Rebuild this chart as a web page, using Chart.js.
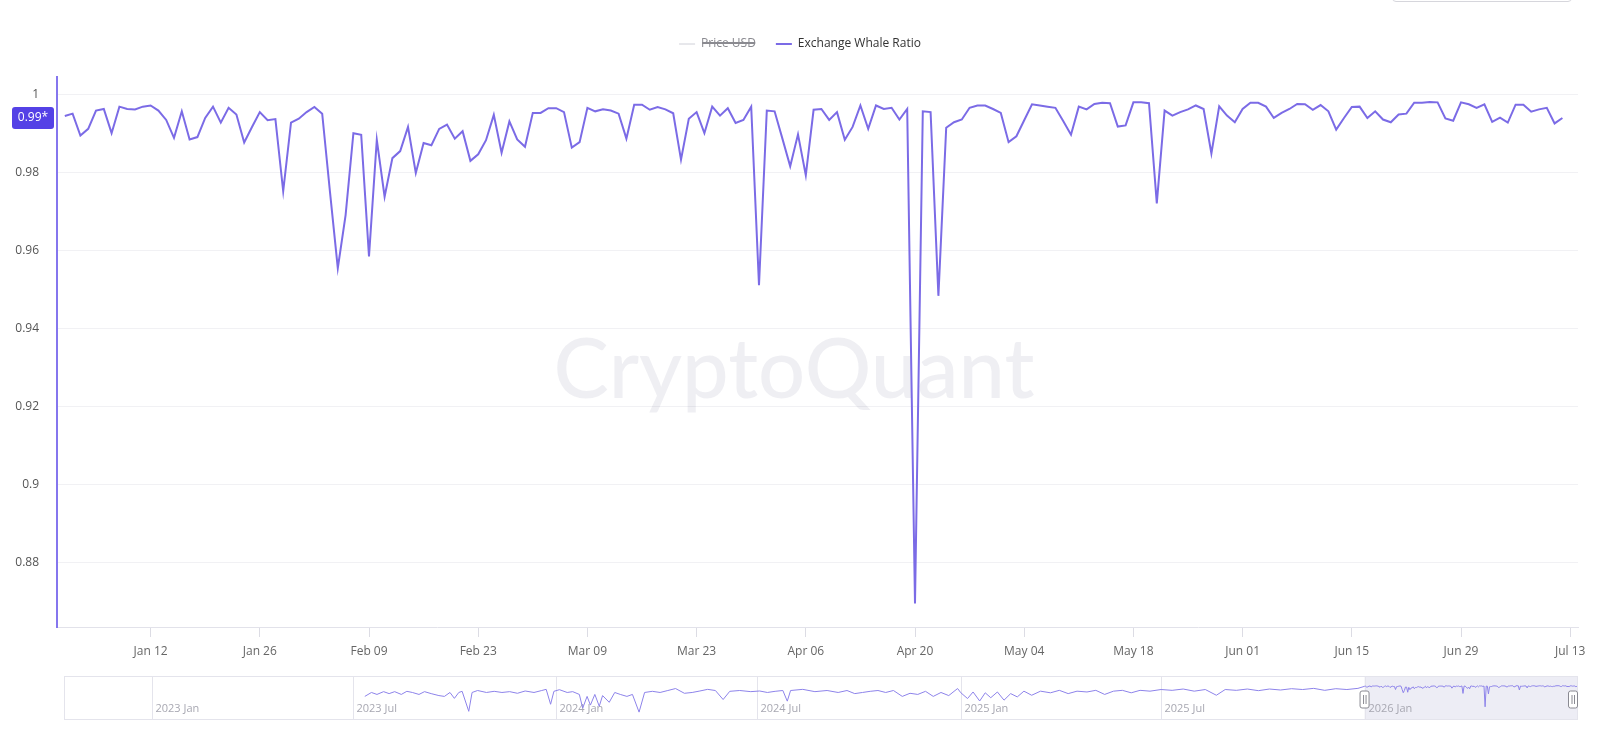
<!DOCTYPE html>
<html><head><meta charset="utf-8">
<script src="https://cdn.jsdelivr.net/npm/chart.js@4.4.1/dist/chart.umd.min.js"></script>
<style>
html,body{margin:0;padding:0;background:#fff;overflow:hidden;}
#wrap{position:relative;width:1600px;height:730px;overflow:hidden;}
#main{position:absolute;left:0;top:0;width:1600px;height:668px;}
#nav{position:absolute;left:0;top:668px;width:1600px;height:62px;}
#topbox{position:absolute;left:1392px;top:-22px;width:178px;height:22px;border:1px solid #d6d6dc;border-radius:4px;}
</style></head><body>
<div id="wrap">
<canvas id="main" width="1600" height="668"></canvas>
<canvas id="nav" width="1600" height="62"></canvas>
<div id="topbox"></div>
</div>
<script>
// ---------- DATA ----------
const seriesStart = '2026-01-01';
const whaleRatio = [
0.9945,0.9951,0.9895,0.9912,0.9959,0.9963,0.9901,0.9969,0.9963,0.9962,
0.9969,0.9972,0.9959,0.9935,0.9889,0.9957,0.9885,0.9891,0.9940,0.9969,
0.9928,0.9966,0.9949,0.9877,0.9917,0.9955,0.9934,0.9937,0.9752,0.9928,
0.9938,0.9955,0.9968,0.9951,0.9750,0.9555,0.9691,0.9901,0.9897,0.9585,
0.9884,0.9738,0.9837,0.9855,0.9917,0.9799,0.9876,0.9870,0.9912,0.9923,
0.9887,0.9906,0.9830,0.9847,0.9883,0.9948,0.9851,0.9931,0.9885,0.9866,
0.9953,0.9953,0.9965,0.9965,0.9955,0.9864,0.9878,0.9966,0.9957,0.9962,
0.9959,0.9951,0.9887,0.9974,0.9974,0.9961,0.9968,0.9962,0.9952,0.9833,
0.9938,0.9955,0.9901,0.9969,0.9946,0.9965,0.9927,0.9935,0.9969,0.9511,
0.9959,0.9957,0.9887,0.9816,0.9898,0.9793,0.9961,0.9963,0.9935,0.9955,
0.9884,0.9917,0.9972,0.9912,0.9972,0.9963,0.9966,0.9936,0.9963,0.8695,
0.9957,0.9955,0.9484,0.9915,0.9929,0.9936,0.9966,0.9972,0.9972,0.9963,
0.9953,0.9878,0.9893,0.9934,0.9975,0.9972,0.9969,0.9966,0.9932,0.9897,
0.9969,0.9962,0.9976,0.9979,0.9978,0.9918,0.9921,0.9980,0.9980,0.9978,
0.9721,0.9959,0.9946,0.9955,0.9962,0.9972,0.9963,0.9849,0.9970,0.9946,
0.9929,0.9963,0.9979,0.9979,0.9969,0.9940,0.9953,0.9963,0.9976,0.9975,
0.9961,0.9973,0.9957,0.9910,0.9940,0.9968,0.9969,0.9940,0.9957,0.9936,
0.9929,0.9949,0.9951,0.9979,0.9979,0.9981,0.9980,0.9939,0.9933,0.9980,
0.9975,0.9966,0.9975,0.9930,0.9941,0.9928,0.9974,0.9974,0.9956,0.9962,
0.9966,0.9926,0.9940
];
const priceUSD = [];
const seriesLabels = ['Price USD', 'Exchange Whale Ratio'];
const xTickDates = ['2026-01-12','2026-01-26','2026-02-09','2026-02-23','2026-03-09','2026-03-23','2026-04-06','2026-04-20','2026-05-04','2026-05-18','2026-06-01','2026-06-15','2026-06-29','2026-07-13'];
const yTickValues = [0.88,0.9,0.92,0.94,0.96,0.98,1];
const xRange = ['2025-12-31','2026-07-14'];
const yRange = [0.8635, 1.0045];
const currentValueLabel = '0.99*';
const watermarkText = 'CryptoQuant';

// navigator (overview) series: days since navStart, values
const navStart = '2023-01-01';
const navHistoryDays = [192,198,203,209,214,219,225,230,235,241,246,252,259,264,269,273,277,280,286,289,294,302,309,316,323,330,337,345,352,356,360,363,368,375,380,386,389,393,396,400,404,407,413,418,423,429,434,440,445,452,459,466,473,481,488,495,502,509,516,522,531,541,549,556,563,570,574,577,588,599,610,620,628,635,642,649,656,663,670,678,685,692,699,706,713,720,728,
731,737,742,748,753,758,764,770,776,782,788,795,803,812,820,828,836,845,853,861,869,877,885,893,902,912,922,932,942,952,962,970,980,990,1000,1010,1020,1030,1040,1050,1060,1070,1080,1090];
const navHistoryValues = [0.933,0.957,0.945,0.962,0.950,0.962,0.945,0.964,0.957,0.945,0.962,0.950,0.938,0.933,0.957,0.921,0.957,0.964,0.842,0.957,0.969,0.957,0.964,0.957,0.962,0.952,0.966,0.957,0.969,0.976,0.885,0.964,0.974,0.957,0.962,0.945,0.861,0.933,0.880,0.945,0.873,0.938,0.897,0.957,0.945,0.933,0.945,0.837,0.957,0.964,0.957,0.969,0.981,0.952,0.957,0.966,0.976,0.969,0.914,0.964,0.969,0.962,0.966,0.957,0.964,0.969,0.904,0.969,0.976,0.962,0.969,0.957,0.969,0.950,0.957,0.964,0.969,0.957,0.969,0.933,0.952,0.945,0.964,0.933,0.957,0.938,0.981,
0.955,0.920,0.960,0.905,0.955,0.925,0.960,0.910,0.950,0.930,0.965,0.940,0.965,0.955,0.970,0.950,0.965,0.960,0.970,0.945,0.965,0.970,0.955,0.970,0.965,0.975,0.970,0.978,0.965,0.975,0.940,0.975,0.970,0.978,0.968,0.978,0.972,0.980,0.975,0.982,0.970,0.980,0.975,0.982];
const navTickDates = ['2023-01-01','2023-07-01','2024-01-01','2024-07-01','2025-01-01','2025-07-01','2026-01-01'];
const navRange = ['2022-10-13','2026-07-13'];
const navYRange = [0.789, 1.0575];
const selectionStart = '2026-01-01';

// ---------- HELPERS ----------
const MS = 86400000;
const MONTHS = ['Jan','Feb','Mar','Apr','May','Jun','Jul','Aug','Sep','Oct','Nov','Dec'];
function dayOf(d, base){ return Math.round((Date.parse(d+'T00:00:00Z') - Date.parse(base+'T00:00:00Z'))/MS); }
function fmtTick(v){ const dt = new Date(Date.parse(seriesStart+'T00:00:00Z') + v*MS); return MONTHS[dt.getUTCMonth()] + ' ' + String(dt.getUTCDate()).padStart(2,'0'); }
function rr(ctx,x,y,w,h,r){ ctx.beginPath(); ctx.moveTo(x+r,y); ctx.lineTo(x+w-r,y); ctx.quadraticCurveTo(x+w,y,x+w,y+r); ctx.lineTo(x+w,y+h-r); ctx.quadraticCurveTo(x+w,y+h,x+w-r,y+h); ctx.lineTo(x+r,y+h); ctx.quadraticCurveTo(x,y+h,x,y+h-r); ctx.lineTo(x,y+r); ctx.quadraticCurveTo(x,y,x+r,y); ctx.closePath(); }

const FONT = '"Open Sans", "Noto Sans", sans-serif';
const LINE = '#7b6be6';

// ---------- MAIN CHART ----------
const legendSpacer = {
  id:'legendSpacer',
  beforeInit(chart){ const fit = chart.legend.fit; chart.legend.fit = function(){ fit.call(this); this.height = 59; }; },
  afterLayout(chart){ chart.legend.left += 22; }
};
const watermark = { id:'watermark', beforeDatasetsDraw(chart){ const ctx = chart.ctx; ctx.save(); ctx.font = '500 83px Lato, "Open Sans", sans-serif'; ctx.fillStyle = 'rgba(40,40,100,0.075)'; ctx.textAlign = 'center'; ctx.textBaseline = 'alphabetic'; ctx.fillText(watermarkText, 794, 398); ctx.restore(); } };
const valueBadge = { id:'valueBadge', afterDraw(chart){ const ys = chart.scales.y; const last = whaleRatio[whaleRatio.length-1]; const y = ys.getPixelForValue(last); const ctx = chart.ctx; ctx.save(); ctx.fillStyle = '#5441e6'; rr(ctx, 12, y-11, 42, 22, 3); ctx.fill(); ctx.fillStyle = '#fff'; ctx.font = '12px ' + FONT; ctx.textAlign = 'center'; ctx.textBaseline = 'middle'; ctx.fillText(currentValueLabel, 33, y); ctx.restore(); } };

new Chart(document.getElementById('main'), {
  type: 'line',
  data: { datasets: [
    { label: seriesLabels[0], data: priceUSD, hidden: true, borderColor: '#cfd0d8', backgroundColor: '#cfd0d8', borderWidth: 1, pointRadius: 0 },
    { label: seriesLabels[1], data: whaleRatio.map((v,i)=>({x:i, y:v})), borderColor: LINE, backgroundColor: LINE, borderWidth: 2, pointRadius: 0, tension: 0 }
  ]},
  options: {
    responsive: false, animation: false, events: [],
    layout: { padding: { top: 18, left: 0, right: 22, bottom: 0 } },
    plugins: {
      tooltip: { enabled: false },
      legend: { position: 'top', align: 'center',
        labels: { usePointStyle: true, pointStyle: 'line', pointStyleWidth: 16, boxHeight: 12, padding: 20, color: '#333', font: { family: FONT, size: 12 },
          generateLabels(chart){ const items = Chart.defaults.plugins.legend.labels.generateLabels(chart); items.forEach(it=>{ it.pointStyle = 'line'; it.fontColor = it.hidden ? '#8a8a90' : '#333'; }); return items; } } }
    },
    scales: {
      x: { type: 'linear', min: dayOf(xRange[0], seriesStart), max: dayOf(xRange[1], seriesStart),
        afterBuildTicks(s){ s.ticks = xTickDates.map(d=>({ value: dayOf(d, seriesStart) })); },
        afterFit(s){ s.height = 41; },
        ticks: { autoSkip: false, maxRotation: 0, padding: 7, color: '#666', font: { family: FONT, size: 12 }, callback: v => fmtTick(v) },
        grid: { drawOnChartArea: false, drawTicks: true, tickLength: 10, color: '#dcdce4' },
        border: { display: true, color: '#e2e2ea', width: 1 } },
      y: { type: 'linear', min: yRange[0], max: yRange[1],
        afterBuildTicks(s){ s.ticks = yTickValues.map(v=>({ value: v })); },
        afterFit(s){ s.width = 57; },
        ticks: { padding: 18, color: '#555', font: { family: FONT, size: 12 }, callback: v => String(+(+v).toFixed(2)) },
        grid: { color: '#f1f1f4', drawTicks: false },
        border: { color: '#8576ee', width: 2 } }
    }
  },
  plugins: [legendSpacer, watermark, valueBadge]
});

// ---------- NAVIGATOR ----------
const navOffset = dayOf(seriesStart, navStart);
const navPoints = navHistoryDays.map((d,i)=>({x:d, y:navHistoryValues[i]})).concat(whaleRatio.map((v,i)=>({x: navOffset+i, y: v})));
function handle(ctx, cx, top){ ctx.fillStyle = '#fff'; ctx.strokeStyle = '#8a8a92'; ctx.lineWidth = 1; rr(ctx, cx-4.5, top, 9, 17, 2); ctx.fill(); ctx.stroke(); ctx.beginPath(); ctx.moveTo(cx-1, top+4); ctx.lineTo(cx-1, top+13); ctx.moveTo(cx+1.5, top+4); ctx.lineTo(cx+1.5, top+13); ctx.stroke(); }
const navDecor = {
  id: 'navDecor',
  beforeDatasetsDraw(chart){
    const { ctx, chartArea: a, scales: { x } } = chart; ctx.save();
    const sx = x.getPixelForValue(dayOf(selectionStart, navStart));
    ctx.fillStyle = 'rgba(214,214,232,0.45)'; ctx.fillRect(sx, a.top, a.right - sx, a.bottom - a.top);
    ctx.strokeStyle = '#e4e4ec'; ctx.lineWidth = 1; ctx.font = '11px ' + FONT; ctx.fillStyle = '#a8a8b2'; ctx.textBaseline = 'middle';
    navTickDates.forEach(d=>{ const px = Math.round(x.getPixelForValue(dayOf(d, navStart))) + 0.5; ctx.beginPath(); ctx.moveTo(px, a.top); ctx.lineTo(px, a.bottom); ctx.stroke(); const dt = new Date(Date.parse(d+'T00:00:00Z')); ctx.fillText(dt.getUTCFullYear() + ' ' + MONTHS[dt.getUTCMonth()], px + 3, a.bottom - 11); });
    ctx.strokeRect(a.left + 0.5, a.top + 0.5, a.right - a.left - 1, a.bottom - a.top - 1);
    ctx.restore();
  },
  afterDatasetsDraw(chart){
    const { ctx, chartArea: a, scales: { x } } = chart; ctx.save();
    const sx = x.getPixelForValue(dayOf(selectionStart, navStart));
    handle(ctx, sx, a.top + 15); handle(ctx, a.right - 5, a.top + 15);
    ctx.restore();
  }
};
new Chart(document.getElementById('nav'), {
  type: 'line',
  data: { datasets: [{ data: navPoints, borderColor: '#8d83ea', borderWidth: 1, pointRadius: 0, tension: 0 }] },
  options: {
    responsive: false, animation: false, events: [],
    layout: { padding: { left: 64, right: 22, top: 8, bottom: 10 } },
    plugins: { legend: { display: false }, tooltip: { enabled: false } },
    scales: {
      x: { type: 'linear', display: false, min: dayOf(navRange[0], navStart), max: dayOf(navRange[1], navStart) },
      y: { display: false, min: navYRange[0], max: navYRange[1] }
    }
  },
  plugins: [navDecor]
});
</script>
</body></html>
